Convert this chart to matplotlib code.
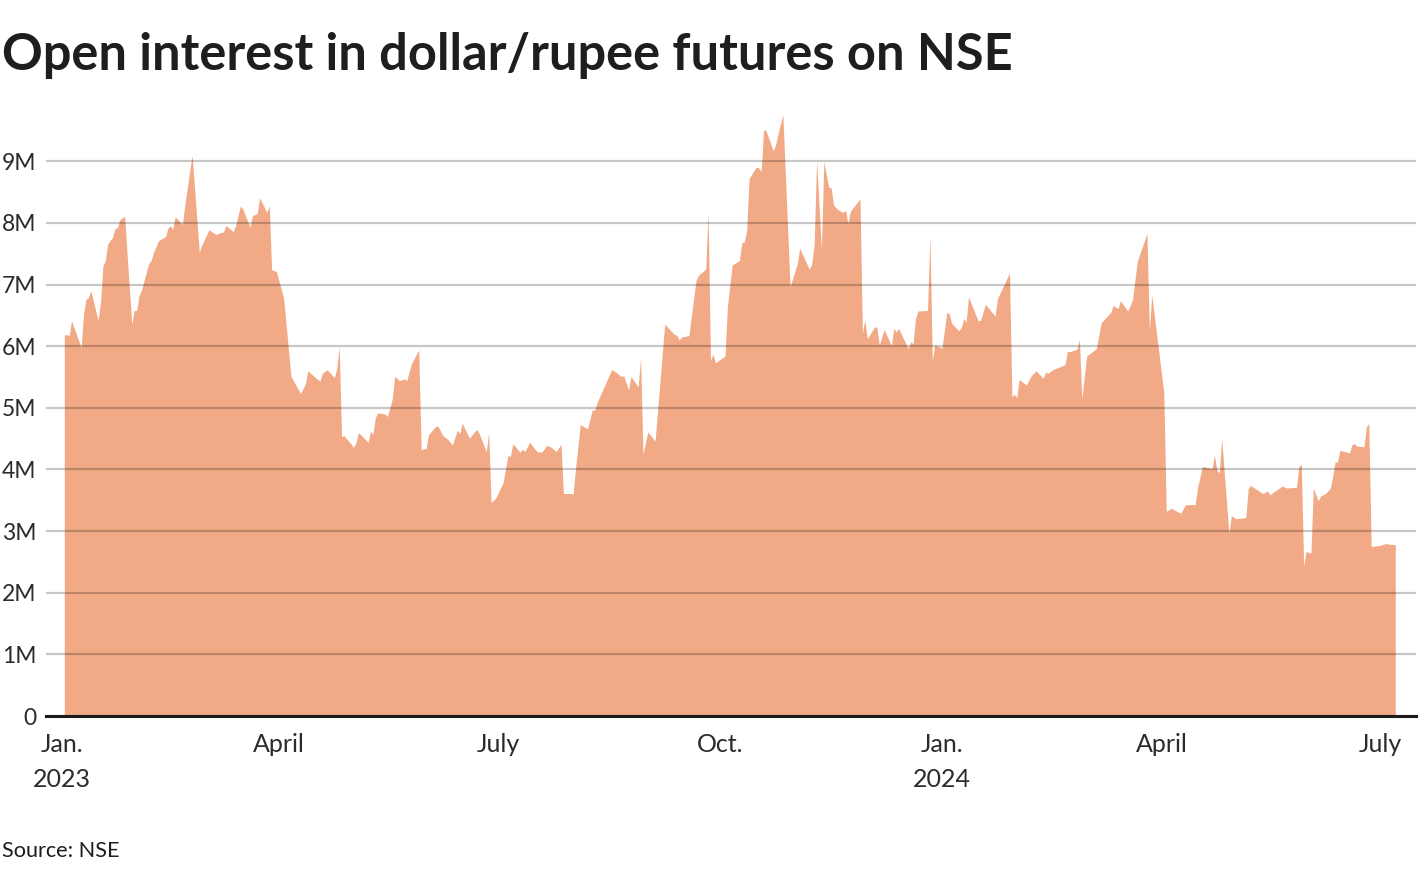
import pandas as pd
import matplotlib
matplotlib.use("Agg")
import matplotlib.pyplot as plt
import matplotlib.dates as mdates
from matplotlib.ticker import FixedLocator, FixedFormatter

# Open interest (millions of contracts)
dates = [
    "2023-01-02", "2023-01-03", "2023-01-04", "2023-01-05", "2023-01-09", "2023-01-10",
    "2023-01-11", "2023-01-12", "2023-01-13", "2023-01-16", "2023-01-17", "2023-01-18",
    "2023-01-19", "2023-01-20", "2023-01-22", "2023-01-23", "2023-01-24", "2023-01-25",
    "2023-01-27", "2023-01-30", "2023-01-31", "2023-02-01", "2023-02-02", "2023-02-03",
    "2023-02-06", "2023-02-07", "2023-02-08", "2023-02-10", "2023-02-13", "2023-02-14",
    "2023-02-15", "2023-02-16", "2023-02-17", "2023-02-20", "2023-02-21", "2023-02-24",
    "2023-02-27", "2023-02-28", "2023-03-03", "2023-03-06", "2023-03-08", "2023-03-09",
    "2023-03-10", "2023-03-13", "2023-03-14", "2023-03-16", "2023-03-17", "2023-03-20",
    "2023-03-21", "2023-03-23", "2023-03-24", "2023-03-27", "2023-03-28", "2023-03-29",
    "2023-03-31", "2023-04-03", "2023-04-06", "2023-04-10", "2023-04-12", "2023-04-13",
    "2023-04-18", "2023-04-19", "2023-04-21", "2023-04-24", "2023-04-25", "2023-04-26",
    "2023-04-27", "2023-04-28", "2023-05-02", "2023-05-03", "2023-05-04", "2023-05-08",
    "2023-05-09", "2023-05-10", "2023-05-11", "2023-05-12", "2023-05-15", "2023-05-16",
    "2023-05-18", "2023-05-19", "2023-05-21", "2023-05-23", "2023-05-24", "2023-05-26",
    "2023-05-29", "2023-05-30", "2023-05-31", "2023-06-01", "2023-06-02", "2023-06-05",
    "2023-06-06", "2023-06-08", "2023-06-10", "2023-06-12", "2023-06-14", "2023-06-15",
    "2023-06-16", "2023-06-19", "2023-06-22", "2023-06-23", "2023-06-26", "2023-06-27",
    "2023-06-28", "2023-06-30", "2023-07-03", "2023-07-04", "2023-07-05", "2023-07-06",
    "2023-07-07", "2023-07-10", "2023-07-11", "2023-07-12", "2023-07-14", "2023-07-17",
    "2023-07-19", "2023-07-21", "2023-07-23", "2023-07-25", "2023-07-27", "2023-07-28",
    "2023-07-31", "2023-08-01", "2023-08-02", "2023-08-04", "2023-08-07", "2023-08-09",
    "2023-08-10", "2023-08-11", "2023-08-17", "2023-08-18", "2023-08-21", "2023-08-22",
    "2023-08-24", "2023-08-25", "2023-08-28", "2023-08-29", "2023-08-30", "2023-09-01",
    "2023-09-04", "2023-09-08", "2023-09-12", "2023-09-13", "2023-09-14", "2023-09-15",
    "2023-09-18", "2023-09-21", "2023-09-22", "2023-09-25", "2023-09-26", "2023-09-27",
    "2023-09-28", "2023-09-29", "2023-10-03", "2023-10-04", "2023-10-06", "2023-10-09",
    "2023-10-10", "2023-10-11", "2023-10-12", "2023-10-13", "2023-10-16", "2023-10-17",
    "2023-10-18", "2023-10-19", "2023-10-20", "2023-10-23", "2023-10-24", "2023-10-25",
    "2023-10-27", "2023-10-30", "2023-10-31", "2023-11-02", "2023-11-03", "2023-11-06",
    "2023-11-07", "2023-11-08", "2023-11-09", "2023-11-10", "2023-11-12", "2023-11-13",
    "2023-11-15", "2023-11-16", "2023-11-17", "2023-11-19", "2023-11-21", "2023-11-22",
    "2023-11-23", "2023-11-24", "2023-11-28", "2023-11-29", "2023-11-30", "2023-12-01",
    "2023-12-04", "2023-12-05", "2023-12-06", "2023-12-08", "2023-12-11", "2023-12-12",
    "2023-12-13", "2023-12-14", "2023-12-18", "2023-12-19", "2023-12-20", "2023-12-21",
    "2023-12-22", "2023-12-26", "2023-12-27", "2023-12-28", "2023-12-29", "2024-01-01",
    "2024-01-03", "2024-01-04", "2024-01-05", "2024-01-08", "2024-01-09", "2024-01-10",
    "2024-01-11", "2024-01-12", "2024-01-16", "2024-01-17", "2024-01-19", "2024-01-23",
    "2024-01-24", "2024-01-29", "2024-01-30", "2024-01-31", "2024-02-01", "2024-02-02",
    "2024-02-05", "2024-02-07", "2024-02-09", "2024-02-12", "2024-02-13", "2024-02-14",
    "2024-02-16", "2024-02-21", "2024-02-22", "2024-02-23", "2024-02-26", "2024-02-27",
    "2024-02-28", "2024-03-01", "2024-03-05", "2024-03-07", "2024-03-11", "2024-03-12",
    "2024-03-14", "2024-03-15", "2024-03-18", "2024-03-20", "2024-03-22", "2024-03-26",
    "2024-03-27", "2024-03-28", "2024-04-02", "2024-04-03", "2024-04-05", "2024-04-09",
    "2024-04-11", "2024-04-15", "2024-04-16", "2024-04-18", "2024-04-22", "2024-04-23",
    "2024-04-24", "2024-04-25", "2024-04-26", "2024-04-29", "2024-04-30", "2024-05-02",
    "2024-05-06", "2024-05-07", "2024-05-08", "2024-05-13", "2024-05-15", "2024-05-16",
    "2024-05-21", "2024-05-23", "2024-05-27", "2024-05-28", "2024-05-29", "2024-05-30",
    "2024-05-31", "2024-06-02", "2024-06-03", "2024-06-05", "2024-06-06", "2024-06-08",
    "2024-06-10", "2024-06-11", "2024-06-12", "2024-06-13", "2024-06-14", "2024-06-18",
    "2024-06-19", "2024-06-20", "2024-06-21", "2024-06-24", "2024-06-25", "2024-06-26",
    "2024-06-27", "2024-07-01", "2024-07-03", "2024-07-04", "2024-07-07",
]
oi_millions = [
    6.18, 6.19, 6.17, 6.41, 5.98, 6.53,
    6.76, 6.79, 6.90, 6.42, 6.70, 7.30,
    7.39, 7.66, 7.77, 7.91, 7.92, 8.05,
    8.11, 6.36, 6.58, 6.58, 6.82, 6.91,
    7.34, 7.39, 7.52, 7.71, 7.78, 7.92,
    7.95, 7.90, 8.10, 7.97, 8.30, 9.10,
    7.52, 7.64, 7.89, 7.81, 7.85, 7.85,
    7.96, 7.86, 7.95, 8.27, 8.23, 7.93,
    8.12, 8.15, 8.41, 8.17, 8.28, 7.24,
    7.21, 6.77, 5.51, 5.23, 5.39, 5.60,
    5.43, 5.56, 5.62, 5.49, 5.64, 6.00,
    4.53, 4.55, 4.36, 4.44, 4.60, 4.44,
    4.62, 4.57, 4.84, 4.92, 4.90, 4.86,
    5.14, 5.51, 5.44, 5.47, 5.44, 5.72,
    5.94, 4.32, 4.34, 4.33, 4.56, 4.70,
    4.70, 4.55, 4.49, 4.40, 4.64, 4.58,
    4.75, 4.51, 4.65, 4.59, 4.29, 4.60,
    3.46, 3.54, 3.79, 4.01, 4.23, 4.21,
    4.42, 4.28, 4.33, 4.29, 4.44, 4.29,
    4.28, 4.39, 4.36, 4.29, 4.41, 3.61,
    3.61, 3.60, 4.01, 4.73, 4.66, 4.97,
    4.96, 5.09, 5.62, 5.60, 5.51, 5.52,
    5.29, 5.51, 5.34, 5.81, 4.25, 4.61,
    4.46, 6.36, 6.19, 6.18, 6.10, 6.15,
    6.17, 7.07, 7.15, 7.25, 8.18, 5.77,
    5.87, 5.73, 5.84, 6.64, 7.32, 7.39,
    7.68, 7.69, 7.88, 8.72, 8.91, 8.89,
    8.83, 9.51, 9.50, 9.17, 9.27, 9.45,
    9.76, 6.96, 7.09, 7.34, 7.59, 7.33,
    7.25, 7.34, 7.66, 9.03, 7.56, 8.99,
    8.58, 8.57, 8.29, 8.21, 8.17, 8.21,
    7.99, 8.19, 8.39, 6.21, 6.43, 6.12,
    6.31, 6.31, 6.02, 6.27, 6.01, 6.29,
    6.23, 6.29, 5.96, 6.07, 6.04, 6.45,
    6.57, 6.58, 7.80, 5.76, 6.02, 5.97,
    6.55, 6.53, 6.37, 6.25, 6.30, 6.45,
    6.39, 6.80, 6.41, 6.42, 6.68, 6.49,
    6.77, 7.19, 5.18, 5.22, 5.17, 5.46,
    5.37, 5.52, 5.60, 5.48, 5.58, 5.56,
    5.62, 5.70, 5.92, 5.91, 5.95, 6.11,
    5.15, 5.84, 5.96, 6.38, 6.55, 6.66,
    6.61, 6.74, 6.57, 6.75, 7.38, 7.83,
    6.26, 6.83, 5.25, 3.32, 3.37, 3.29,
    3.43, 3.43, 3.71, 4.05, 4.01, 4.23,
    3.99, 3.94, 4.50, 2.96, 3.25, 3.20,
    3.22, 3.69, 3.74, 3.61, 3.65, 3.59,
    3.73, 3.70, 3.71, 4.04, 4.09, 2.44,
    2.67, 2.64, 3.70, 3.49, 3.57, 3.61,
    3.69, 3.88, 4.12, 4.12, 4.31, 4.27,
    4.40, 4.42, 4.38, 4.37, 4.69, 4.75,
    2.75, 2.77, 2.80, 2.79, 2.78,
]

tick_dates = ["2023-01-01", "2023-04-01", "2023-07-01", "2023-10-01",
              "2024-01-01", "2024-04-01", "2024-07-01"]
tick_labels = ["Jan.\n2023", "April", "July", "Oct.", "Jan.\n2024", "April", "July"]
y_ticks = [0, 1, 2, 3, 4, 5, 6, 7, 8, 9]
y_labels = ["0", "1M", "2M", "3M", "4M", "5M", "6M", "7M", "8M", "9M"]

x = pd.to_datetime(dates)
y = [v * 1e6 for v in oi_millions]

plt.rcParams["font.family"] = ["Lato", "DejaVu Sans"]

fig = plt.figure(figsize=(14.2, 8.72), dpi=100)
ax = fig.add_axes([46 / 1420, 156 / 872, 1370 / 1420, 604 / 872])

ax.fill_between(x, 0, y, color="#f2aa86", linewidth=0, zorder=1)

ax.set_xlim(pd.Timestamp("2022-12-25 10:00"), pd.Timestamp("2024-07-15 14:00"))
ax.set_ylim(0, 9.8e6)

ax.yaxis.set_major_locator(FixedLocator([t * 1e6 for t in y_ticks]))
ax.yaxis.set_major_formatter(FixedFormatter(y_labels))
ax.xaxis.set_major_locator(FixedLocator(mdates.date2num(pd.to_datetime(tick_dates))))
ax.xaxis.set_major_formatter(FixedFormatter(tick_labels))

# gridlines sit on top of the area, semi-transparent
ax.grid(axis="y", color="black", alpha=0.22, linewidth=1.6, zorder=3)
ax.set_axisbelow(False)
for s in ["top", "right", "left"]:
    ax.spines[s].set_visible(False)
ax.spines["bottom"].set_color("#1a1a1a")
ax.spines["bottom"].set_linewidth(2.2)
ax.spines["bottom"].set_zorder(4)

ax.tick_params(axis="both", length=0, labelcolor="#2b2b2b")
ax.tick_params(axis="y", pad=7, labelsize=16.5)
ax.tick_params(axis="x", pad=12, labelsize=18)
for lab in ax.get_xticklabels():
    lab.set_linespacing(1.65)

fig.text(2 / 1420, 1 - 70 / 872, "Open interest in dollar/rupee futures on NSE",
         fontsize=36.4, fontweight="bold", color="#1e1e1e", va="baseline", ha="left")
fig.text(2 / 1420, 1 - 851 / 872, "Source: NSE", fontsize=15.6, color="#1e1e1e",
         va="center", ha="left")

fig.savefig("out.png", dpi=100)
